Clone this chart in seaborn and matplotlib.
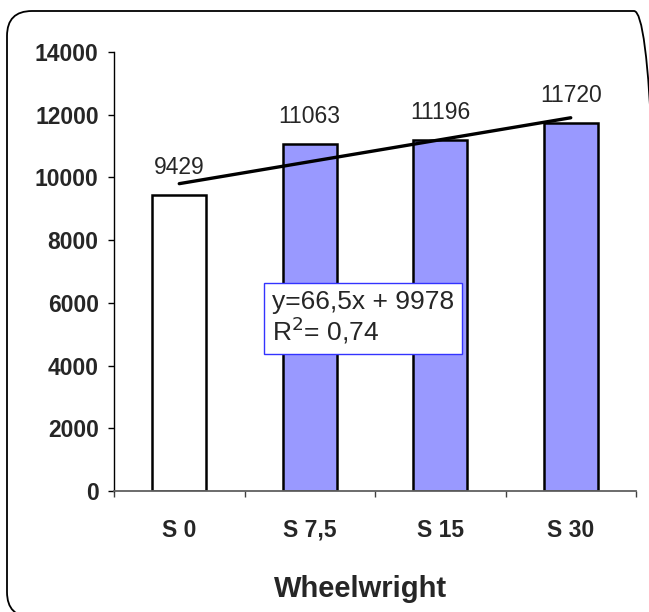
import numpy as np
import pandas as pd
import matplotlib
matplotlib.use("Agg")
import matplotlib.pyplot as plt
from matplotlib.patches import FancyBboxPatch
import seaborn as sns

categories = ["S 0", "S 7,5", "S 15", "S 30"]
values = [9429, 11063, 11196, 11720]
bar_colors = ["#FFFFFF", "#9999FF", "#9999FF", "#9999FF"]
y_ticks = [0, 2000, 4000, 6000, 8000, 10000, 12000, 14000]
equation_text = "y=66,5x + 9978\nR$^2$= 0,74"
x_title = "Wheelwright"

sns.set_style("white")
plt.rcParams["font.family"] = ["Liberation Sans", "DejaVu Sans"]

df = pd.DataFrame({"cat": categories, "val": values})

fig = plt.figure(figsize=(6.49, 6.12), dpi=100)
ax = fig.add_axes([114 / 649, 1 - 491 / 612, (636 - 114) / 649, (491 - 52) / 612])

sns.barplot(data=df, x="cat", y="val", hue="cat", palette=bar_colors,
            edgecolor="black", linewidth=1.8, width=0.41, legend=False,
            saturation=1, ax=ax, zorder=2)

# linear trend across the category positions
pos = np.arange(len(values))
sns.regplot(x=pos, y=np.array(values, dtype=float), scatter=False, ci=None,
            ax=ax, line_kws=dict(color="black", lw=2.4, zorder=3))

for i, v in enumerate(values):
    ax.annotate(f"{v}", xy=(i, v), xytext=(0, 20), textcoords="offset points",
                ha="center", va="center", fontsize=16.5)

ax.set_xlim(-0.5, len(values) - 0.5)
ax.set_ylim(0, 14000)
ax.set_yticks(y_ticks)
ax.set_yticklabels([str(t) for t in y_ticks], fontsize=16.5, fontweight="bold")
ax.set_xticks(pos)
ax.set_xticklabels(categories, fontsize=16.5, fontweight="bold")
ax.set_xticks(np.arange(len(values) + 1) - 0.5, minor=True)
ax.tick_params(axis="x", which="major", length=0, pad=20)
ax.tick_params(axis="x", which="minor", length=4.5, width=1, color="#404040",
               direction="out", bottom=True)
ax.tick_params(axis="y", length=4, width=1, color="black", direction="out",
               left=True, pad=7)
ax.set_xlabel("")
ax.set_ylabel("")

for s in ["top", "right"]:
    ax.spines[s].set_visible(False)
ax.spines["left"].set_color("black")
ax.spines["left"].set_linewidth(1)
ax.spines["bottom"].set_color("#606060")
ax.spines["bottom"].set_linewidth(1.3)

fig.text(272 / 649, 1 - 318 / 612, equation_text, fontsize=19,
         ha="left", va="center", linespacing=1.0,
         bbox=dict(boxstyle="square,pad=0.3", fc="white", ec="#3333FF", lw=1))

fig.text(361 / 649, 1 - 589 / 612, x_title, fontsize=21, fontweight="bold",
         ha="center", va="center")

# rounded frame around the whole chart area
border = FancyBboxPatch((0.07, -0.05), 6.52, 6.06,
                        boxstyle="round,pad=0,rounding_size=0.25",
                        transform=fig.dpi_scale_trans, fill=False,
                        ec="black", lw=1.3, clip_on=False)
fig.patches.append(border)

fig.savefig("out.png", dpi=100)
